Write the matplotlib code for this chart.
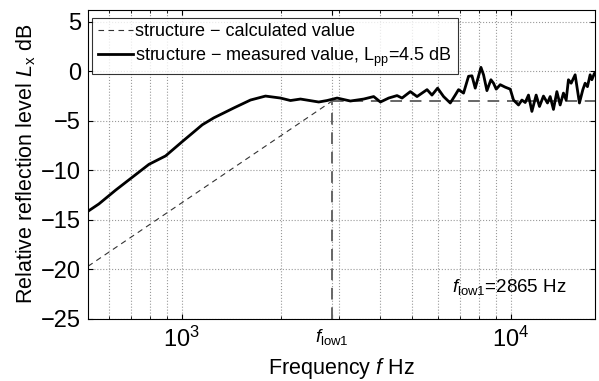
import numpy as np
import matplotlib.pyplot as plt

plt.rcParams['font.family'] = ['Liberation Sans', 'DejaVu Sans']
plt.rcParams['mathtext.fontset'] = 'custom'
plt.rcParams['mathtext.rm'] = 'Liberation Sans'
plt.rcParams['mathtext.it'] = 'Liberation Sans:italic'

# measured curve (Hz, dB)
freq = [522, 561, 631, 796, 894, 1005, 1078, 1156, 1253, 1441, 1619, 1798,
        1997, 2141, 2296, 2609, 2766, 2967, 3255, 3573, 3831, 4015, 4255,
        4511, 4670, 4950, 5187, 5563, 5758, 5989, 6246, 6544, 6776, 6934,
        7180, 7436, 7615, 7792, 8110, 8258, 8456, 8695, 8855, 9023, 9280,
        9609, 9952, 10183, 10545, 10799, 11050, 11307, 11579, 11930, 12210,
        12556, 12912, 13158, 13464, 13788, 14109, 14438, 14713, 14952, 15237,
        15668, 16144, 16535, 16801, 17075, 17400, 17610, 17929, 18020]
level = [-14.1, -13.4, -12.0, -9.4, -8.55, -7.1, -6.25, -5.4, -4.7, -3.7,
         -2.9, -2.5, -2.7, -2.95, -2.8, -3.1, -2.95, -2.7, -3.0, -2.8, -2.55,
         -3.1, -2.7, -2.45, -2.7, -2.05, -2.55, -1.85, -2.4, -1.7, -2.55,
         -3.2, -2.4, -1.85, -2.2, -0.5, -0.45, -1.7, 0.4, -0.35, -1.95, -0.85,
         -1.2, -1.8, -1.35, -1.6, -1.8, -2.9, -3.4, -2.9, -3.15, -2.4, -4.05,
         -2.4, -3.55, -2.5, -3.2, -2.55, -3.85, -2.05, -3.4, -2.2, -2.9,
         -0.85, -1.2, -0.35, -3.2, -1.85, -1.2, -1.55, -0.35, -0.85, -0.2, -0.3]

# calculated value
f_low1 = 2865
calc_freq = [520, f_low1]
calc_level = [-19.7, -3.0]
flat_freq = [f_low1, 18000]
flat_level = [-3.0, -3.0]

fig = plt.figure(figsize=(5.99, 3.81), dpi=100)
ax = fig.add_axes([0.147, 0.1635, 0.8463, 0.8103])

ax.plot(calc_freq, calc_level, '--', color='#333333', lw=0.8, dashes=(5, 4),
        label='structure − calculated value')
ax.plot(flat_freq, flat_level, '--', color='#666666', lw=1.4, dashes=(6, 4))
ax.plot([f_low1, f_low1], [-25, -3.0], '--', color='#666666', lw=1.4, dashes=(6, 4))
ax.plot(freq, level, '-', color='black', lw=2.0,
        label=r'structure − measured value, L$_{\rm pp}$=4.5 dB')

ax.set_xscale('log')
ax.set_xlim(520, 18000)
ax.set_ylim(-25, 6.2)
ax.set_yticks([-25, -20, -15, -10, -5, 0, 5])
ax.set_xticks([1000, f_low1, 10000])
ax.set_xticklabels([r'$10^3$', r'$f_{\rm low1}$', r'$10^4$'])
ax.tick_params(which='both', direction='in', top=True, right=True, labelsize=17)
ax.tick_params(axis='x', pad=6)
ax.tick_params(axis='y', pad=5)
ax.get_xticklabels()[1].set_fontsize(13.5)
ax.grid(True, which='both', axis='x', linestyle=':', color='#999999', lw=0.8)
ax.grid(True, which='major', axis='y', linestyle=':', color='#999999', lw=0.8)

ax.set_xlabel(r'Frequency $f$ Hz', fontsize=15.5, labelpad=2.5)
ax.set_ylabel(r'Relative reflection level $L_{\rm x}$ dB', fontsize=15.5, labelpad=2)

leg = ax.legend(loc='upper left', bbox_to_anchor=(0.008, 0.974), borderaxespad=0,
                fontsize=13, frameon=True, fancybox=False, edgecolor='black',
                handlelength=1.95, borderpad=0.3, labelspacing=0.28,
                handletextpad=0.15)
leg.get_frame().set_linewidth(0.8)

ax.text(0.944, 0.103, r'$f_{\rm low1}$=2865 Hz', transform=ax.transAxes,
        ha='right', va='center', fontsize=13.5)

fig.savefig('out.png', dpi=100)
